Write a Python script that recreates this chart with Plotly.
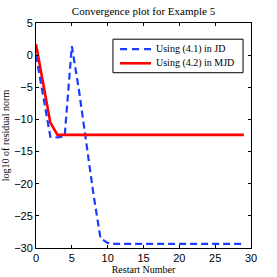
import plotly.graph_objects as go

restart_jd = list(range(0, 30))
resid_jd = [0.0, -6.5, -12.7, -12.8, -12.6, 1.4, -5.5, -13.5, -21.5, -28.5, -29.2] + [-29.35] * 19
restart_mjd = list(range(0, 30))
resid_mjd = [1.7, -4.4, -10.5, -12.4] + [-12.4] * 26
series_names = ["Using (4.1) in JD", "Using (4.2) in MJD"]
series_colors = ["#1a3cff", "#ff0000"]

x_ticks = [0, 5, 10, 15, 20, 25, 30]
y_ticks = [-30, -25, -20, -15, -10, -5, 0, 5]

fig = go.Figure()
fig.add_trace(go.Scatter(x=restart_jd, y=resid_jd, mode="lines", name=series_names[0],
                         line=dict(color=series_colors[0], width=2.2, dash="7px,4px")))
fig.add_trace(go.Scatter(x=restart_mjd, y=resid_mjd, mode="lines", name=series_names[1],
                         line=dict(color=series_colors[1], width=2.6)))

axis_common = dict(showline=True, linecolor="black", linewidth=1, mirror="ticks",
                   ticks="inside", ticklen=3, tickcolor="black", showgrid=False, zeroline=False,
                   automargin=False,
                   tickfont=dict(family="Liberation Sans", size=11, color="black"))
fig.update_xaxes(range=[0, 30], tickvals=x_ticks, **axis_common,
                 title=dict(text="Restart Number", font=dict(family="Liberation Serif", size=10, color="black"), standoff=1))
fig.update_yaxes(range=[-30, 5], tickvals=y_ticks, **axis_common,
                 title=dict(text="log10 of residual norm", font=dict(family="Liberation Serif", size=10, color="black"), standoff=3))

# MATLAB-style legend box
lx0, lx1, ly0, ly1 = 0.358, 0.963, 0.779, 0.928
fig.add_shape(type="rect", xref="paper", yref="paper", x0=lx0, x1=lx1, y0=ly0, y1=ly1,
              line=dict(color="black", width=1), fillcolor="white", layer="above")
legend_rows = [(0.884, "7px,5px", 2.2), (0.821, "solid", 2.6)]
for (ly, dash, w), name, col in zip(legend_rows, series_names, series_colors):
    fig.add_shape(type="line", xref="paper", yref="paper", x0=0.391, x1=0.535, y0=ly, y1=ly,
                  line=dict(color=col, width=w, dash=dash), layer="above")
    fig.add_annotation(xref="paper", yref="paper", x=0.549, y=ly, text=name, showarrow=False,
                       xanchor="left", yanchor="middle",
                       font=dict(family="Liberation Serif", size=10, color="black"))

fig.update_layout(
    width=277, height=277,
    margin=dict(l=36, r=26, t=23, b=29, autoexpand=False),
    paper_bgcolor="white", plot_bgcolor="white",
    title=dict(text="Convergence plot for Example 5", x=0.518, xanchor="center", y=0.975, yanchor="top",
               font=dict(family="Liberation Serif", size=11, color="black")),
    showlegend=False,
)
fig.write_html("out.html", config={"displayModeBar": False},
               post_script="document.body.style.margin='0px';document.body.style.overflow='hidden';")
